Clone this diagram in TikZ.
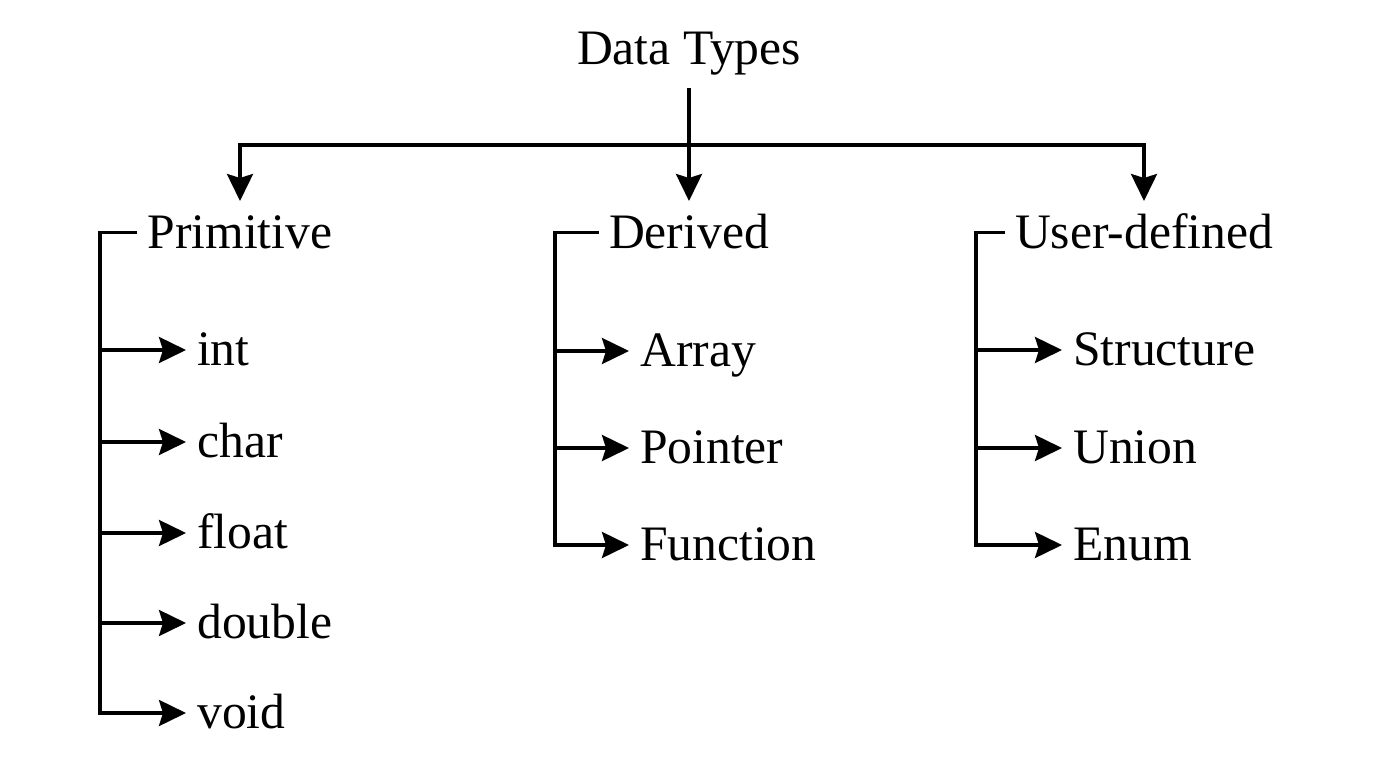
\documentclass[tikz,border=0pt]{standalone}
\usepackage{fontspec}
\setmainfont{Liberation Serif}
\usepackage{tikz}
\usetikzlibrary{arrows.meta}
\newcommand{\typefont}{\fontsize{49.6}{60}\selectfont}
\tikzset{
    common/.style={font=\typefont, inner sep=0pt, text height=31pt, text depth=0pt},
    root/.style={font=\typefont, anchor=base, inner xsep=0pt, inner ysep=12pt, text depth=11pt},
    group/.style={common, anchor=north, inner xsep=10pt, inner ysep=16pt},
    leaf/.style={common, anchor=west, inner xsep=11pt},
    wire/.style={line width=3.4pt},
    branch/.style={wire, -{Stealth[length=27pt, width=26pt, inset=4pt]}}
}
\begin{document}
\begin{tikzpicture}[x=1pt, y=-1pt]
      \useasboundingbox (0,0) rectangle (1376,768);
      \node[root] (types) at (689,65) {Data Types};
      \coordinate (split) at (689,145);

      \node[group] (prim) at (240,201) {Primitive};
      \node[group] (der) at (689,201) {Derived};
      \node[group] (user) at (1144,201) {User-defined};

      \coordinate (primbar) at (100,0);
      \coordinate (derbar) at (555,0);
      \coordinate (userbar) at (976,0);

      \node[leaf] (int) at (186,350) {int};
      \node[leaf] (char) at (186,442) {char};
      \node[leaf] (float) at (186,533) {float};
      \node[leaf] (double) at (186,623) {double};
      \node[leaf] (void) at (186,713) {void};

      \node[leaf] (array) at (629,351) {Array};
      \node[leaf] (pointer) at (629,448) {Pointer};
      \node[leaf] (function) at (629,545) {Function};

      \node[leaf] (struct) at (1062,350) {Structure};
      \node[leaf] (union) at (1062,448) {Union};
      \node[leaf] (enum) at (1062,545) {Enum};

      \draw[wire] (types.south) -- (split);
      \draw[branch] (split) -| (prim.north);
      \draw[branch] (split) -- (der.north);
      \draw[branch] (split) -| (user.north);

      \draw[branch] (prim.west) -| (primbar |- void.west) -- (void.west);
      \draw[branch] (primbar |- int.west) -- (int.west);
      \draw[branch] (primbar |- char.west) -- (char.west);
      \draw[branch] (primbar |- float.west) -- (float.west);
      \draw[branch] (primbar |- double.west) -- (double.west);

      \draw[branch] (der.west) -| (derbar |- function.west) -- (function.west);
      \draw[branch] (derbar |- array.west) -- (array.west);
      \draw[branch] (derbar |- pointer.west) -- (pointer.west);

      \draw[branch] (user.west) -| (userbar |- enum.west) -- (enum.west);
      \draw[branch] (userbar |- struct.west) -- (struct.west);
      \draw[branch] (userbar |- union.west) -- (union.west);
\end{tikzpicture}
\end{document}
